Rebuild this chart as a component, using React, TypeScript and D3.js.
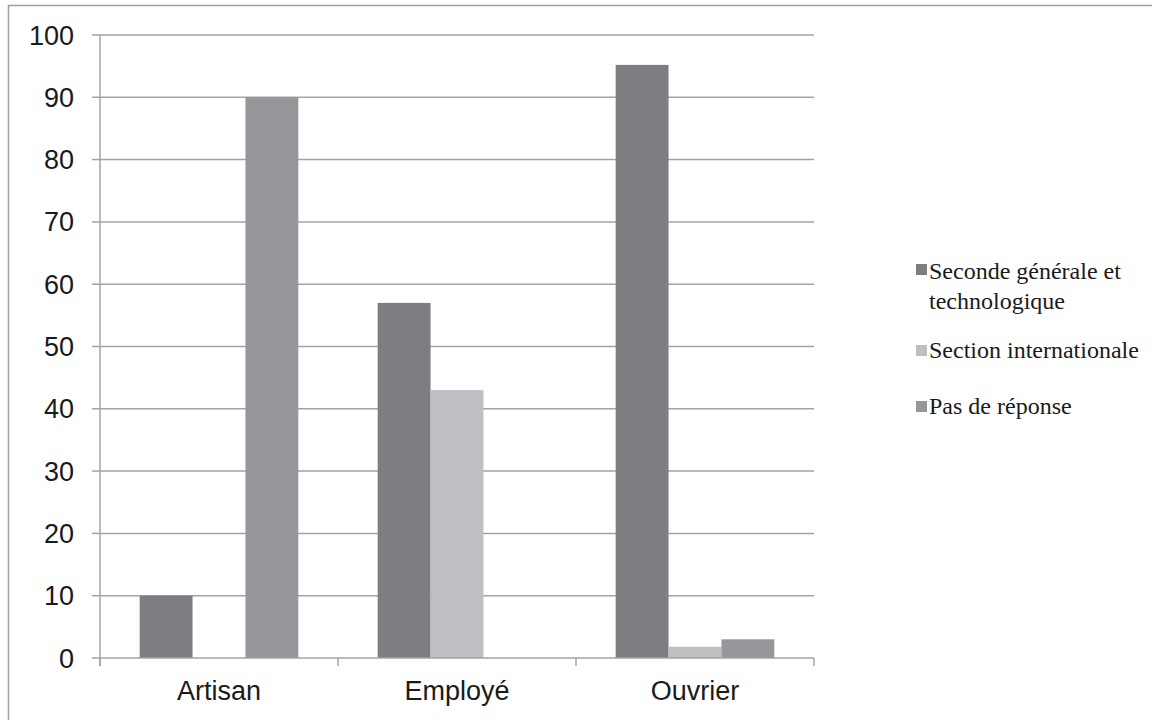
import React from "react";
import * as d3 from "d3";

const categories = ["Artisan", "Employé", "Ouvrier"];
const seriesNames = ["Seconde générale et technologique", "Section internationale", "Pas de réponse"];
const seconde = [10, 57, 95.2];
const section = [0, 43, 1.8];
const pasReponse = [90, 0, 3];
const yTicks = [0, 10, 20, 30, 40, 50, 60, 70, 80, 90, 100];
const colors = ["#7d7e82", "#bebfc3", "#96979b"];
const legendLines = [["Seconde générale et", "technologique"], ["Section internationale"], ["Pas de réponse"]];

export default function App() {
  const W = 1152, H = 720;
  const x0 = 100, x1 = 814, yTop = 35, yBot = 658;
  const series = [seconde, section, pasReponse];
  const y = d3.scaleLinear().domain([0, 100]).range([yBot, yTop]);
  const xBand = d3.scaleBand().domain(categories).range([x0, x1]).paddingInner(0).paddingOuter(0);
  const bw = xBand.bandwidth();
  const inner = d3.scaleBand().domain(d3.range(3).map(String)).range([0, bw]).paddingOuter(0.75).paddingInner(0);
  const grid = "#a3a3a3";
  const legendY = [[279, 309], [358], [414]];
  const markerY = [264, 345, 401];
  return (
    <div style={{ position: "absolute", left: 0, top: 0 }}>
      <svg width={W} height={H} style={{ display: "block", background: "#fff" }}>
        <rect x={8.5} y={5.5} width={1300} height={900} fill="#fff" stroke="#a0a0a0" strokeWidth={1.5} />
        {yTicks.map((t) => (
          <g key={t}>
            {t > 0 && <line x1={x0} x2={x1} y1={y(t)} y2={y(t)} stroke={grid} strokeWidth={1.5} />}
            <line x1={92} x2={x0} y1={y(t)} y2={y(t)} stroke={grid} strokeWidth={1.5} />
            <text x={74} y={y(t) + 9.5} textAnchor="end" fontFamily="Liberation Sans, Arial, sans-serif" fontSize={27} fill="#1a1a1a">{t}</text>
          </g>
        ))}
        {categories.map((c, ci) =>
          series.map((s, si) => {
            const v = s[ci];
            if (v <= 0) return null;
            const bx = (xBand(c) as number) + (inner(String(si)) as number);
            return <rect key={c + si} x={bx} y={y(v)} width={inner.bandwidth()} height={yBot - y(v)} fill={colors[si]} />;
          })
        )}
        <line x1={x0} x2={x0} y1={yTop} y2={yBot + 8} stroke={grid} strokeWidth={1.5} />
        <line x1={x0} x2={x1} y1={yBot} y2={yBot} stroke={grid} strokeWidth={1.5} />
        {[0, 1, 2, 3].map((i) => (
          <line key={i} x1={x0 + i * bw} x2={x0 + i * bw} y1={yBot} y2={yBot + 8} stroke={grid} strokeWidth={1.5} />
        ))}
        {categories.map((c) => (
          <text key={c} x={(xBand(c) as number) + bw / 2} y={700} textAnchor="middle" fontFamily="Liberation Sans, Arial, sans-serif" fontSize={27} fill="#1a1a1a">{c}</text>
        ))}
        {seriesNames.map((n, i) => (
          <g key={n}>
            <rect x={916} y={markerY[i]} width={11} height={11} fill={colors[i]} />
            {legendLines[i].map((l, li) => (
              <text key={li} x={929} y={legendY[i][li]} fontFamily="Liberation Serif, Times New Roman, serif" fontSize={24} fill="#1a1a1a">{l}</text>
            ))}
          </g>
        ))}
      </svg>
    </div>
  );
}
